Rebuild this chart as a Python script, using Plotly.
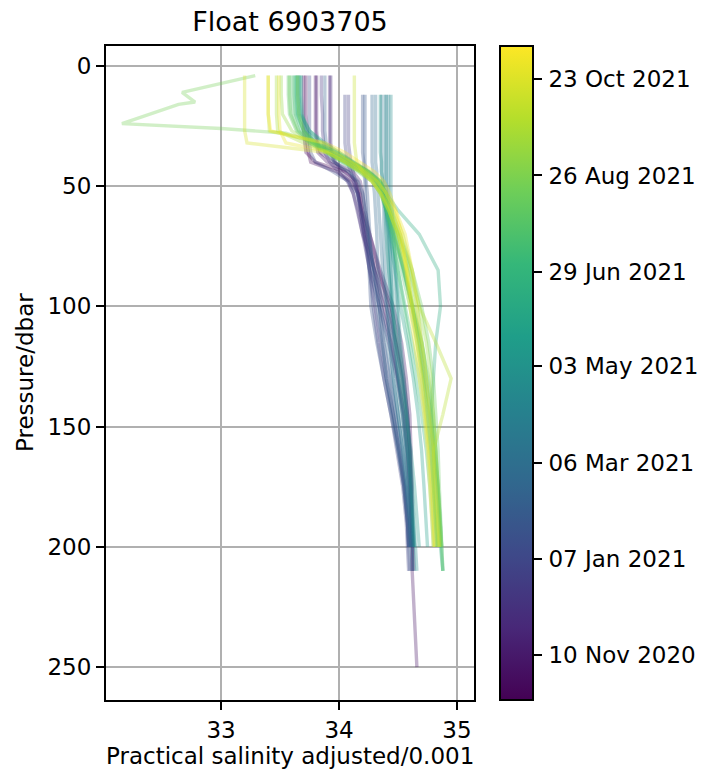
import plotly.graph_objects as go
from plotly.colors import sample_colorscale
from datetime import date

# ---------------- data ----------------
pressure_levels = [4, 12, 20, 27, 32, 36, 40, 44, 48, 53, 60, 70, 85, 100,
                   115, 130, 145, 160, 175, 190, 200, 210, 250]

profile_dates = [
    "2020-10-14", "2020-10-24", "2020-11-03", "2020-11-13", "2020-11-23",
    "2020-12-03", "2020-12-13", "2020-12-23", "2021-01-02", "2021-01-12",
    "2021-01-22", "2021-02-01", "2021-02-11", "2021-02-21", "2021-03-03",
    "2021-03-13", "2021-03-23", "2021-04-02", "2021-04-12", "2021-04-22",
    "2021-05-02", "2021-05-12", "2021-05-22", "2021-06-01", "2021-06-11",
    "2021-06-21", "2021-07-01", "2021-07-11", "2021-07-21", "2021-07-31",
    "2021-08-10", "2021-08-20", "2021-08-30", "2021-09-09", "2021-09-19",
    "2021-09-29", "2021-10-09", "2021-10-19", "2021-10-29", "2021-11-12",
]

N = None
sal_20201014 = [33.70, 33.70, 33.70, 33.70, 33.71, 33.72, 33.80, 34.05, 34.15, 34.18, 34.20, 34.26, 34.34, 34.42, 34.48, 34.53, 34.57, 34.60, 34.61, 34.62, 34.62, 34.63, N]
sal_20201024 = [33.72, 33.72, 33.72, 33.73, 33.73, 33.74, 33.76, 33.98, 34.10, 34.16, 34.19, 34.23, 34.32, 34.44, 34.50, 34.55, 34.58, 34.60, 34.61, 34.62, 34.62, N, N]
sal_20201103 = [33.80, 33.80, 33.80, 33.80, 33.81, 33.82, 33.90, 34.08, 34.14, 34.17, 34.19, 34.23, 34.30, 34.38, 34.45, 34.50, 34.55, 34.58, 34.60, 34.61, 34.62, 34.62, 34.66]
sal_20201113 = [33.81, 33.81, 33.81, 33.81, 33.82, 33.84, 33.95, 34.12, 34.18, 34.20, 34.22, 34.26, 34.35, 34.46, 34.53, 34.57, 34.60, 34.61, 34.62, 34.62, 34.63, N, N]
sal_20201123 = [33.92, 33.92, 33.92, 33.92, 33.92, 33.93, 33.96, 34.05, 34.12, 34.16, 34.18, 34.21, 34.28, 34.36, 34.44, 34.50, 34.55, 34.58, 34.60, 34.61, 34.62, N, N]
sal_20201203 = [33.93, 33.93, 33.93, 33.93, 33.93, 33.94, 33.97, 34.02, 34.08, 34.12, 34.15, 34.20, 34.30, 34.40, 34.48, 34.54, 34.58, 34.60, 34.61, 34.62, 34.62, 34.62, N]
sal_20201213 = [33.85, 33.85, 33.86, 33.86, 33.87, 33.88, 33.92, 34.00, 34.07, 34.12, 34.16, 34.20, 34.26, 34.34, 34.42, 34.49, 34.54, 34.57, 34.59, 34.60, 34.61, N, N]
sal_20201223 = [N, 34.08, 34.08, 34.08, 34.08, 34.09, 34.10, 34.12, 34.14, 34.16, 34.18, 34.21, 34.26, 34.30, 34.35, 34.40, 34.46, 34.51, 34.55, 34.58, 34.59, N, N]
sal_20210102 = [N, 34.05, 34.05, 34.05, 34.05, 34.06, 34.07, 34.10, 34.13, 34.16, 34.19, 34.22, 34.26, 34.29, 34.33, 34.38, 34.44, 34.49, 34.54, 34.57, 34.58, 34.59, N]
sal_20210112 = [33.75, 33.75, 33.75, 33.75, 33.75, 33.76, 33.80, 33.95, 34.08, 34.15, 34.19, 34.24, 34.30, 34.34, 34.38, 34.43, 34.48, 34.52, 34.56, 34.58, 34.59, N, N]
sal_20210122 = [N, 34.20, 34.20, 34.20, 34.20, 34.20, 34.21, 34.21, 34.22, 34.22, 34.23, 34.24, 34.25, 34.27, 34.32, 34.38, 34.44, 34.50, 34.55, 34.58, 34.59, 34.60, N]
sal_20210201 = [N, 34.22, 34.22, 34.22, 34.22, 34.22, 34.22, 34.23, 34.23, 34.24, 34.25, 34.26, 34.28, 34.32, 34.36, 34.41, 34.46, 34.51, 34.56, 34.59, 34.60, N, N]
sal_20210211 = [33.88, 33.88, 33.88, 33.88, 33.89, 33.90, 33.96, 34.08, 34.16, 34.20, 34.22, 34.25, 34.30, 34.34, 34.37, 34.40, 34.45, 34.50, 34.55, 34.58, 34.59, N, N]
sal_20210221 = [N, 34.28, 34.28, 34.28, 34.28, 34.28, 34.28, 34.29, 34.29, 34.30, 34.31, 34.32, 34.33, 34.36, 34.40, 34.44, 34.48, 34.53, 34.57, 34.60, 34.61, 34.62, N]
sal_20210303 = [N, 34.31, 34.31, 34.31, 34.31, 34.31, 34.31, 34.32, 34.32, 34.33, 34.34, 34.35, 34.37, 34.40, 34.43, 34.46, 34.50, 34.54, 34.57, 34.60, 34.61, N, N]
sal_20210313 = [N, 34.36, 34.36, 34.36, 34.36, 34.36, 34.36, 34.36, 34.37, 34.37, 34.38, 34.38, 34.39, 34.41, 34.43, 34.46, 34.50, 34.54, 34.58, 34.61, 34.62, N, N]
sal_20210323 = [N, 34.39, 34.39, 34.39, 34.39, 34.39, 34.39, 34.39, 34.39, 34.40, 34.40, 34.41, 34.42, 34.44, 34.46, 34.49, 34.52, 34.56, 34.59, 34.62, 34.63, 34.64, N]
sal_20210402 = [N, 34.42, 34.42, 34.42, 34.42, 34.42, 34.42, 34.42, 34.42, 34.42, 34.42, 34.43, 34.44, 34.45, 34.47, 34.50, 34.54, 34.57, 34.60, 34.62, 34.63, N, N]
sal_20210412 = [N, 34.40, 34.40, 34.40, 34.40, 34.40, 34.40, 34.40, 34.40, 34.41, 34.42, 34.44, 34.47, 34.49, 34.51, 34.54, 34.57, 34.59, 34.61, 34.63, 34.64, N, N]
sal_20210422 = [N, 34.44, 34.44, 34.44, 34.44, 34.44, 34.44, 34.44, 34.44, 34.44, 34.45, 34.46, 34.48, 34.50, 34.52, 34.55, 34.58, 34.60, 34.62, 34.64, 34.65, 34.66, N]
sal_20210502 = [33.68, 33.68, 33.69, 33.72, 33.80, 33.95, 34.10, 34.25, 34.35, 34.38, 34.40, 34.42, 34.44, 34.46, 34.48, 34.51, 34.55, 34.58, 34.61, 34.63, 34.64, N, N]
sal_20210512 = [N, 34.35, 34.35, 34.35, 34.35, 34.35, 34.36, 34.36, 34.37, 34.38, 34.39, 34.40, 34.42, 34.45, 34.49, 34.53, 34.57, 34.61, 34.64, 34.66, 34.68, N, N]
sal_20210522 = [33.66, 33.66, 33.67, 33.75, 33.88, 34.00, 34.12, 34.25, 34.33, 34.37, 34.40, 34.43, 34.47, 34.52, 34.58, 34.63, 34.67, 34.70, 34.72, 34.74, 34.75, N, N]
sal_20210601 = [33.65, 33.65, 33.66, 33.72, 33.82, 33.95, 34.08, 34.22, 34.32, 34.38, 34.42, 34.47, 34.55, 34.62, 34.68, 34.72, 34.75, 34.78, 34.80, 34.82, 34.83, N, N]
sal_20210611 = [33.67, 33.67, 33.68, 33.75, 33.86, 33.98, 34.12, 34.26, 34.35, 34.40, 34.50, 34.68, 34.84, 34.86, 34.82, 34.80, 34.78, 34.80, 34.83, 34.85, 34.86, 34.88, N]
sal_20210621 = [33.64, 33.64, 33.65, 33.70, 33.80, 33.93, 34.08, 34.22, 34.32, 34.36, 34.40, 34.46, 34.55, 34.62, 34.68, 34.73, 34.78, 34.81, 34.84, 34.86, 34.87, 34.88, N]
sal_20210701 = [33.63, 33.63, 33.64, 33.70, 33.78, 33.90, 34.03, 34.18, 34.30, 34.36, 34.40, 34.44, 34.50, 34.55, 34.60, 34.65, 34.70, 34.74, 34.77, 34.79, 34.80, N, N]
sal_20210711 = [33.62, 33.62, 33.63, 33.68, 33.78, 33.92, 34.06, 34.20, 34.31, 34.37, 34.41, 34.45, 34.50, 34.56, 34.62, 34.68, 34.73, 34.77, 34.80, 34.82, 34.83, N, N]
sal_20210721 = [33.60, 33.60, 33.61, 33.66, 33.76, 33.90, 34.05, 34.20, 34.32, 34.38, 34.43, 34.48, 34.55, 34.62, 34.70, 34.75, 34.79, 34.82, 34.84, 34.86, 34.87, N, N]
sal_20210731 = [33.57, 33.57, 33.58, 33.64, 33.75, 33.88, 34.02, 34.16, 34.28, 34.35, 34.40, 34.46, 34.53, 34.60, 34.66, 34.71, 34.76, 34.80, 34.83, 34.85, 34.86, N, N]
sal_20210810 = [33.58, 33.58, 33.59, 33.65, 33.78, 33.92, 34.08, 34.24, 34.35, 34.40, 34.45, 34.52, 34.62, 34.70, 34.76, 34.80, 34.82, 34.84, 34.85, 34.86, 34.87, 34.88, N]
sal_20210830 = [33.65, 33.65, 33.66, 33.70, 33.80, 33.95, 34.10, 34.25, 34.35, 34.40, 34.43, 34.48, 34.56, 34.63, 34.70, 34.76, 34.80, 34.82, 34.84, 34.86, 34.87, N, N]
sal_20210909 = [33.51, 33.51, 33.52, 33.60, 33.75, 33.90, 34.05, 34.20, 34.30, 34.36, 34.42, 34.50, 34.60, 34.68, 34.74, 34.78, 34.80, 34.82, 34.84, 34.85, 34.86, N, N]
sal_20210919 = [33.47, 33.47, 33.47, 33.48, 33.70, 33.90, 34.05, 34.18, 34.28, 34.35, 34.42, 34.50, 34.58, 34.63, 34.68, 34.72, 34.76, 34.79, 34.81, 34.83, 34.84, N, N]
sal_20210929 = [33.40, 33.40, 33.40, 33.41, 33.85, 34.00, 34.12, 34.24, 34.33, 34.40, 34.46, 34.54, 34.62, 34.68, 34.82, 34.95, 34.88, 34.80, 34.80, 34.82, 34.84, N, N]
sal_20211009 = [34.13, 34.13, 34.13, 34.13, 34.13, 34.14, 34.15, 34.20, 34.28, 34.35, 34.42, 34.50, 34.57, 34.62, 34.67, 34.71, 34.74, 34.77, 34.79, 34.80, 34.81, N, N]
sal_20211019 = [33.20, 33.20, 33.20, 33.20, 33.22, 33.90, 34.05, 34.18, 34.28, 34.36, 34.44, 34.52, 34.58, 34.62, 34.66, 34.70, 34.73, 34.76, 34.78, 34.80, 34.81, N, N]
sal_20211029 = [33.49, 33.49, 33.49, 33.50, 33.55, 33.95, 34.10, 34.22, 34.32, 34.40, 34.48, 34.56, 34.62, 34.66, 34.70, 34.74, 34.77, 34.80, 34.82, 34.84, 34.85, N, N]
sal_20211112 = [33.40, 33.40, 33.40, 33.42, 33.88, 34.05, 34.18, 34.30, 34.38, 34.43, 34.48, 34.53, 34.57, 34.60, 34.64, 34.68, 34.72, 34.75, 34.77, 34.79, 34.80, N, N]

# profile of 20 Aug 2021 has its own finer near-surface sampling
pres_20210820 = [4, 11, 15, 16, 24, 26, 28, 32, 36, 40, 44, 48, 55, 65, 80, 100, 120, 140, 160, 180, 200]
sal_20210820 = [33.29, 32.67, 32.78, 32.64, 32.16, 33.00, 33.55, 33.80, 33.98, 34.12, 34.25, 34.33, 34.40, 34.47, 34.58, 34.66, 34.72, 34.76, 34.80, 34.82, 34.84]

colorbar_min_date = "2020-10-14"
colorbar_max_date = "2021-11-12"
colorbar_tick_dates = ["2020-11-10", "2021-01-07", "2021-03-06", "2021-05-03",
                       "2021-06-29", "2021-08-26", "2021-10-23"]
colorbar_tick_labels = ["10 Nov 2020", "07 Jan 2021", "06 Mar 2021", "03 May 2021",
                        "29 Jun 2021", "26 Aug 2021", "23 Oct 2021"]

x_ticks = [33, 34, 35]
y_ticks = [0, 50, 100, 150, 200, 250]

# ---------------- build ----------------
grid_profiles = {
    "2020-10-14": sal_20201014, "2020-10-24": sal_20201024, "2020-11-03": sal_20201103,
    "2020-11-13": sal_20201113, "2020-11-23": sal_20201123, "2020-12-03": sal_20201203,
    "2020-12-13": sal_20201213, "2020-12-23": sal_20201223, "2021-01-02": sal_20210102,
    "2021-01-12": sal_20210112, "2021-01-22": sal_20210122, "2021-02-01": sal_20210201,
    "2021-02-11": sal_20210211, "2021-02-21": sal_20210221, "2021-03-03": sal_20210303,
    "2021-03-13": sal_20210313, "2021-03-23": sal_20210323, "2021-04-02": sal_20210402,
    "2021-04-12": sal_20210412, "2021-04-22": sal_20210422, "2021-05-02": sal_20210502,
    "2021-05-12": sal_20210512, "2021-05-22": sal_20210522, "2021-06-01": sal_20210601,
    "2021-06-11": sal_20210611, "2021-06-21": sal_20210621, "2021-07-01": sal_20210701,
    "2021-07-11": sal_20210711, "2021-07-21": sal_20210721, "2021-07-31": sal_20210731,
    "2021-08-10": sal_20210810, "2021-08-30": sal_20210830, "2021-09-09": sal_20210909,
    "2021-09-19": sal_20210919, "2021-09-29": sal_20210929, "2021-10-09": sal_20211009,
    "2021-10-19": sal_20211019, "2021-10-29": sal_20211029, "2021-11-12": sal_20211112,
}


def ordinal(s):
    y, m, d = (int(v) for v in s.split("-"))
    return date(y, m, d).toordinal()


cmin = ordinal(colorbar_min_date)
cmax = ordinal(colorbar_max_date)

FONT = "DejaVu Sans"
fig = go.Figure()

for d in profile_dates:
    if d == "2021-08-20":
        xs, ys = sal_20210820, pres_20210820
    else:
        xs, ys = grid_profiles[d], pressure_levels
    frac = (ordinal(d) - cmin) / (cmax - cmin)
    col = sample_colorscale("Viridis", [frac], colortype="tuple")[0]
    rgb = tuple(round(c * 255) if c <= 1 else round(c) for c in col)
    rgba = "rgba(%d,%d,%d,0.33)" % rgb
    fig.add_trace(go.Scatter(x=xs, y=ys, mode="lines",
                             line=dict(color=rgba, width=3.4),
                             showlegend=False, hoverinfo="skip"))

# colour bar carrier
fig.add_trace(go.Scatter(
    x=[34.5], y=[100], mode="markers",
    marker=dict(size=1, opacity=0, color=[cmin], colorscale="Viridis",
                cmin=cmin, cmax=cmax, showscale=True,
                colorbar=dict(
                    x=(500 - 106) / 368, xanchor="left", xpad=0, ypad=0,
                    y=0.5, yanchor="middle",
                    len=654, lenmode="pixels",
                    thickness=33, thicknessmode="pixels",
                    outlinewidth=2, outlinecolor="black",
                    tickvals=[ordinal(t) for t in colorbar_tick_dates],
                    ticktext=["\u200a" + t for t in colorbar_tick_labels],
                    ticks="outside", ticklen=8, tickwidth=2, tickcolor="black",
                    tickfont=dict(family=FONT, size=23, color="black"),
                )),
    showlegend=False, hoverinfo="skip"))

axis_common = dict(
    showgrid=True, gridcolor="#b0b0b0", gridwidth=2,
    showline=True, linecolor="black", linewidth=2, mirror=True,
    ticks="outside", ticklen=8, tickwidth=2, tickcolor="black",
    zeroline=False,
    tickfont=dict(family=FONT, size=23, color="black"),
)

fig.update_layout(
    width=703, height=774,
    margin=dict(l=106, r=229, t=46, b=74, autoexpand=False),
    paper_bgcolor="white", plot_bgcolor="white",
    font=dict(family=FONT, size=23, color="black"),
    xaxis=dict(range=[32.025, 35.144], tickvals=x_ticks, **axis_common),
    yaxis=dict(range=[263.7, -8.3], tickvals=y_ticks, **axis_common),
    title=dict(text="Float 6903705", x=0.5, xref="paper", xanchor="center",
               y=1 - 22 / 774, yref="container", yanchor="middle",
               font=dict(family=FONT, size=27, color="black")),
    annotations=[
        dict(text="Practical salinity adjusted/0.001", xref="paper", yref="paper",
             x=0.5, y=-(756 - 700) / 654, xanchor="center", yanchor="middle",
             showarrow=False, font=dict(family=FONT, size=23, color="black")),
        dict(text="Pressure/dbar", xref="paper", yref="paper",
             x=-(106 - 25) / 368, y=0.5, xanchor="center", yanchor="middle",
             textangle=-90, showarrow=False,
             font=dict(family=FONT, size=23, color="black")),
    ],
)

fig.write_html("out.html")
